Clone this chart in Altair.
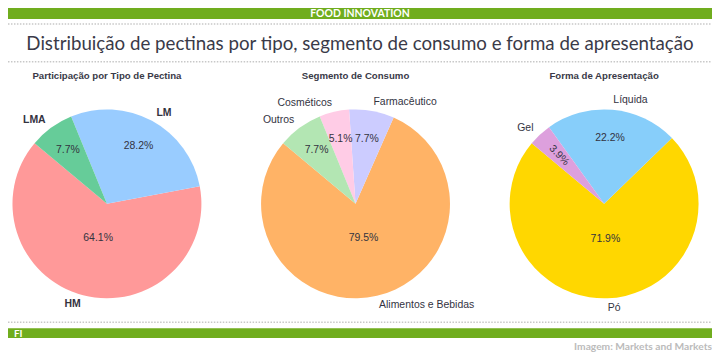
import math
import altair as alt
import pandas as pd

# ---- data ----
tipo_cats = ["HM", "LM", "LMA"]
tipo_vals = [64.1, 28.2, 7.7]
tipo_colors = ["#ff9999", "#99ccff", "#66cc99"]

seg_cats = ["Alimentos e Bebidas", "Farmacêutico", "Cosméticos", "Outros"]
seg_vals = [79.5, 7.7, 5.1, 7.7]
seg_colors = ["#ffb366", "#ccccff", "#ffcce6", "#b3e6b3"]

forma_cats = ["Pó", "Líquida", "Gel"]
forma_vals = [71.9, 22.2, 3.9]
forma_colors = ["#ffd700", "#87cefa", "#dda0dd"]

subtitles = ["Participação por Tipo de Pectina", "Segmento de Consumo", "Forma de Apresentação"]
header_text = "FOOD INNOVATION"
title_text = "Distribuição de pectinas por tipo, segmento de consumo e forma de apresentação"
footer_left = "FI"
footer_credit = "Imagem: Markets and Markets"

# ---- layout ----
W, H = 708, 345
GREEN = "#70ad1e"
DOT = "#c8c8c8"
R = 95
CY = 196
CXS = [99.5, 349.5, 599.5]
START = math.radians(90 - 140)
TXT = "#33333f"
FONT = "Liberation Sans"
TFONT = "Lato"

one = pd.DataFrame({"k": [0]})


def pie(cats, vals, colors, cx, bold_labels=False):
    df = pd.DataFrame({"cat": cats, "val": vals, "idx": list(range(len(cats)))})
    base = alt.Chart(df).transform_joinaggregate(
        total="sum(val)"
    ).transform_window(
        cum="sum(val)", sort=[alt.SortField("idx")]
    ).transform_calculate(
        frac="datum.val / datum.total",
        mid="(datum.cum - datum.val / 2) / datum.total",
    ).transform_calculate(
        cosv="cos((140 + 360 * datum.mid) * PI / 180)",
        lbl="format(datum.val, '.1f') + '%'",
    ).transform_calculate(
        labL="datum.cosv >= 0 ? datum.cat : ''",
        labR="datum.cosv < 0 ? datum.cat : ''",
        pctBig="datum.frac > 0.5 ? datum.lbl : ''",
        pctSmall="datum.frac <= 0.5 ? datum.lbl : ''",
    ).encode(
        theta=alt.Theta("val:Q", stack=True,
                        scale=alt.Scale(range=[START, START - 2 * math.pi])),
        order=alt.Order("idx:Q"),
        x=alt.value(cx),
        y=alt.value(CY),
    )
    arc = base.mark_arc(radius=R).encode(
        color=alt.Color("cat:N", scale=alt.Scale(domain=cats, range=colors), legend=None)
    )
    pct_big = base.mark_text(radius=R * 0.37, font=FONT, fontSize=10.5, color=TXT,
                             baseline="middle").encode(text="pctBig:N")
    pct_small = base.mark_text(radius=R * 0.7, font=FONT, fontSize=10.5, color=TXT,
                               baseline="middle").encode(
        text="pctSmall:N",
        angle=alt.condition("datum.frac < 0.045", alt.value(47), alt.value(0)),
    )
    fw = "bold" if bold_labels else "normal"
    labl = base.mark_text(radius=R * 1.1, font=FONT, fontSize=10.5, fontWeight=fw,
                          color=TXT, align="left", baseline="middle").encode(text="labL:N")
    labr = base.mark_text(radius=R * 1.1, font=FONT, fontSize=10.5, fontWeight=fw,
                          color=TXT, align="right", baseline="middle").encode(text="labR:N")
    return alt.layer(arc, pct_big, pct_small, labl, labr)


def hline(y):
    return alt.Chart(one).mark_rule(color=DOT, strokeWidth=1.5, strokeDash=[1.5, 1.5]).encode(
        x=alt.value(0), x2=alt.value(W), y=alt.value(y)
    )


def bar(y0, y1):
    return alt.Chart(one).mark_rect(color=GREEN).encode(
        x=alt.value(0), x2=alt.value(W), y=alt.value(y0), y2=alt.value(y1)
    )


def label(text, x, y, **kw):
    d = pd.DataFrame({"t": [text]})
    return alt.Chart(d).mark_text(**kw).encode(text="t:N", x=alt.value(x), y=alt.value(y))


deco = [
    bar(-1, 10),
    label(header_text, W / 2, 5, font=TFONT, fontSize=10.5, fontWeight="bold",
          color="white", baseline="middle"),
    hline(15),
    label(title_text, W / 2, 35, font=TFONT, fontSize=18.8, color="#3a3a48", baseline="middle"),
    hline(53),
    hline(315),
    bar(321, 331),
    label(footer_left, 6, 326.5, font=TFONT, fontSize=10, fontWeight="bold",
          color="white", align="left", baseline="middle"),
    label(footer_credit, W, 339.5, font=TFONT, fontSize=10.3, fontWeight="bold",
          color="#bbbbbb", align="right", baseline="middle"),
]
for s, cx in zip(subtitles, CXS):
    deco.append(label(s, cx, 67, font=FONT, fontSize=9.7, fontWeight="bold",
                      color="#3a3a48", baseline="middle"))

pies = [
    pie(tipo_cats, tipo_vals, tipo_colors, CXS[0], bold_labels=True),
    pie(seg_cats, seg_vals, seg_colors, CXS[1]),
    pie(forma_cats, forma_vals, forma_colors, CXS[2]),
]

chart = alt.layer(*deco, *pies).resolve_scale(
    theta="independent", color="independent"
).properties(
    width=W, height=H, padding=0,
    autosize=alt.AutoSizeParams(type="none"),
).configure_view(strokeWidth=0)

chart.save("out.html", embed_options={"renderer": "svg", "actions": False})
